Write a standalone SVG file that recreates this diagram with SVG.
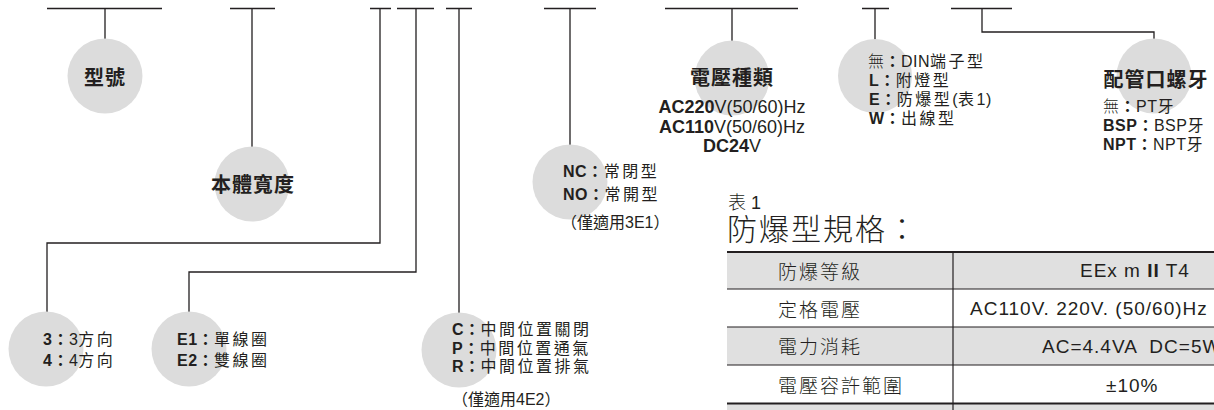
<svg xmlns="http://www.w3.org/2000/svg" width="1214" height="410" viewBox="0 0 1214 410">
<style>
.ln{fill:none;stroke:#231f20;stroke-width:1.3}
.cir{fill:#dcdcdc}
.t{font-family:"Liberation Sans","Noto Sans CJK TC",sans-serif;fill:#231f20;font-size:16px;letter-spacing:0.5px}
.c{letter-spacing:2.5px}
.b{font-weight:bold}
.ttl{font-family:"Liberation Sans","Noto Sans CJK TC",sans-serif;fill:#231f20;font-size:20px;font-weight:bold;letter-spacing:1px;text-anchor:middle}
.v{font-family:"Liberation Sans","Noto Sans CJK TC",sans-serif;fill:#231f20;font-size:18px;text-anchor:middle}
.tl{font-family:"Noto Sans CJK TC",sans-serif;fill:#231f20;font-size:19px;letter-spacing:2px;font-weight:300}
.tr{font-family:"Liberation Sans","Noto Sans CJK TC",sans-serif;fill:#231f20;font-size:19px;letter-spacing:1px}
.gray{fill:#e0e0e0}
.tb{stroke:#231f20;stroke-width:1.2;fill:none}
.tbk{stroke:#231f20;stroke-width:2.2;fill:none}
</style>
<rect width="1214" height="410" fill="#ffffff"/>
<g id="connectors">
<path class="ln" d="M47 8.5H162M105 8.5V40"/>
<path class="ln" d="M230 8.5H275M252 8.5V147"/>
<path class="ln" d="M370 8.5H391M380 8.5V243H47V312"/>
<path class="ln" d="M397 8.5H434M416 8.5V272H189V312"/>
<path class="ln" d="M446 8.5H472M459 8.5V313"/>
<path class="ln" d="M544 8.5H596M570 8.5V145"/>
<path class="ln" d="M665 8.5H798M732 8.5V41"/>
<path class="ln" d="M862 8.5H889M875 8.5V40"/>
<path class="ln" d="M951 8.5H1012M982 8.5V32H1154V39"/>
</g>
<g id="node-model">
<circle class="cir" cx="105" cy="76" r="37.5"/>
<text class="ttl" x="105" y="85">型號</text>
</g>
<g id="node-width">
<circle class="cir" cx="252" cy="184" r="37.5"/>
<text class="ttl" x="253" y="192">本體寬度</text>
</g>
<g id="node-ways">
<circle class="cir" cx="46" cy="349" r="37.5"/>
<text class="t" x="43" y="345"><tspan class="b">3：</tspan>3<tspan class="c">方向</tspan></text>
<text class="t" x="43" y="366"><tspan class="b">4：</tspan>4<tspan class="c">方向</tspan></text>
</g>
<g id="node-coil">
<circle class="cir" cx="189" cy="349" r="37.5"/>
<text class="t" x="177" y="345"><tspan class="b">E1：</tspan><tspan class="c">單線圈</tspan></text>
<text class="t" x="177" y="366"><tspan class="b">E2：</tspan><tspan class="c">雙線圈</tspan></text>
</g>
<g id="node-center">
<circle class="cir" cx="459" cy="350" r="37.5"/>
<text class="t" x="452" y="335"><tspan class="b">C：</tspan><tspan class="c">中間位置關閉</tspan></text>
<text class="t" x="452" y="354"><tspan class="b">P：</tspan><tspan class="c">中間位置通氣</tspan></text>
<text class="t" x="452" y="372"><tspan class="b">R：</tspan><tspan class="c">中間位置排氣</tspan></text>
<text class="t" x="452" y="405" style="letter-spacing:0">（僅適用4E2）</text>
</g>
<g id="node-nc">
<circle class="cir" cx="570" cy="182" r="37.5"/>
<text class="t" x="563" y="177"><tspan class="b">NC：</tspan><tspan class="c">常閉型</tspan></text>
<text class="t" x="563" y="200"><tspan class="b">NO：</tspan><tspan class="c">常開型</tspan></text>
<text class="t" x="561" y="228" style="letter-spacing:0">（僅適用3E1）</text>
</g>
<g id="node-voltage">
<circle class="cir" cx="732" cy="78" r="37.5"/>
<text class="ttl" x="732" y="85">電壓種類</text>
<text class="v" x="732" y="113"><tspan class="b">AC220</tspan>V(50/60)Hz</text>
<text class="v" x="732" y="133"><tspan class="b">AC110</tspan>V(50/60)Hz</text>
<text class="v" x="732" y="152"><tspan class="b">DC24</tspan>V</text>
</g>
<g id="node-connector">
<circle class="cir" cx="875" cy="76" r="37"/>
<text class="t" x="868" y="67"><tspan style="font-weight:300">無</tspan><tspan class="b">：</tspan>DIN<tspan class="c">端子型</tspan></text>
<text class="t" x="869" y="86"><tspan class="b">L：</tspan><tspan class="c">附燈型</tspan></text>
<text class="t" x="869" y="105"><tspan class="b">E：</tspan><tspan class="c">防爆型</tspan>(<tspan class="c">表</tspan>1)</text>
<text class="t" x="869" y="124"><tspan class="b">W：</tspan><tspan class="c">出線型</tspan></text>
</g>
<g id="node-thread">
<circle class="cir" cx="1154" cy="76" r="37.5"/>
<text class="ttl" x="1156" y="87">配管口螺牙</text>
<text class="t" x="1103" y="112"><tspan style="font-weight:300">無</tspan><tspan class="b">：</tspan>PT牙</text>
<text class="t" x="1103" y="131"><tspan class="b">BSP：</tspan>BSP牙</text>
<text class="t" x="1103" y="150"><tspan class="b">NPT：</tspan>NPT牙</text>
</g>
<g id="table1">
<text class="t" x="728" y="209" style="letter-spacing:0;font-size:18px;font-weight:300">表 1</text>
<text x="727" y="240" style="font-family:'Noto Sans CJK TC',sans-serif;font-size:30px;font-weight:300;fill:#231f20;letter-spacing:2px">防爆型規格：</text>
<rect class="gray" x="727" y="252" width="487" height="37"/>
<rect class="gray" x="727" y="327" width="487" height="38"/>
<rect class="gray" x="727" y="403" width="487" height="7"/>
<path class="tbk" d="M727 252H1214"/>
<path class="tb" d="M727 289H1214M727 327H1214M727 365H1214"/>
<path class="tbk" d="M727 403.5H1214"/>
<path class="tb" d="M953 252V410"/>
<text class="tl" x="778" y="279">防爆等級</text>
<text class="tl" x="778" y="317">定格電壓</text>
<text class="tl" x="778" y="354">電力消耗</text>
<text class="tl" x="778" y="393">電壓容許範圍</text>
<text class="tr" x="1080" y="277">EEx m <tspan class="b">II</tspan> T4</text>
<text class="tr" x="970" y="315">AC110V. 220V. (50/60)Hz</text>
<text class="tr" x="1042" y="353" xml:space="preserve">AC=4.4VA  DC=5W</text>
<text class="tr" x="1106" y="392">±10%</text>
</g>
</svg>
